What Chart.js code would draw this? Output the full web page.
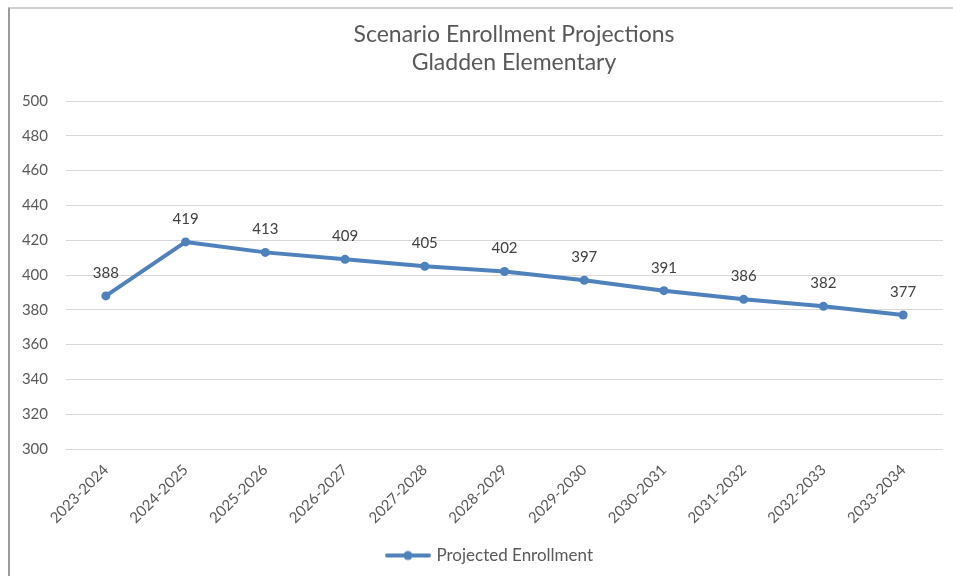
<!DOCTYPE html>
<html>
<head>
<meta charset="utf-8">
<script src="https://cdn.jsdelivr.net/npm/chart.js@4.4.1/dist/chart.umd.min.js"></script>
<style>
  html, body { margin: 0; padding: 0; background: #fff; }
  #wrap { position: relative; width: 953px; height: 576px; overflow: hidden; }
  #frame { position: absolute; left: 8px; top: 7px; width: 1000px; height: 1000px;
           border-top: 2px solid #cfcfcf; border-left: 2px solid #9a9a9a; pointer-events: none; }
  canvas { position: absolute; left: 0; top: 0; }
</style>
</head>
<body>
<div id="wrap">
  <canvas id="c" width="953" height="576"></canvas>
  <div id="frame"></div>
</div>
<script>
const titleLines = ["Scenario Enrollment Projections", "Gladden Elementary"];
const categories = ["2023-2024","2024-2025","2025-2026","2026-2027","2027-2028","2028-2029","2029-2030","2030-2031","2031-2032","2032-2033","2033-2034"];
const projectedEnrollment = [388, 419, 413, 409, 405, 402, 397, 391, 386, 382, 377];
const seriesName = "Projected Enrollment";
const yMin = 300, yMax = 500, yStep = 20;

const BLUE = "#4F81BD";
const FONT = "Lato, 'Open Sans', sans-serif";

// legend marker: line with a dot
const marker = document.createElement("canvas");
marker.width = 46; marker.height = 12;
(function(){
  const g = marker.getContext("2d");
  g.strokeStyle = BLUE; g.lineWidth = 4; g.lineCap = "round";
  g.beginPath(); g.moveTo(2, 6); g.lineTo(44, 6); g.stroke();
  g.fillStyle = BLUE; g.beginPath(); g.arc(23, 6, 4.5, 0, Math.PI*2); g.fill();
})();

const chartTitle = {
  id: "chartTitle",
  afterDraw(chart) {
    const ctx = chart.ctx;
    ctx.save();
    ctx.font = "23px " + FONT;
    ctx.fillStyle = "#595959";
    ctx.textAlign = "center";
    ctx.textBaseline = "middle";
    titleLines.forEach((t, i) => ctx.fillText(t, 514, 35 + i * 28));
    ctx.restore();
  }
};

// shift the legend box a little to the right, as in the original
const legendShift = {
  id: "legendShift",
  afterLayout(chart) {
    if (chart.legend) { chart.legend.left += 14; chart.legend.right += 14; }
  }
};

const dataLabels = {
  id: "dataLabels",
  afterDatasetsDraw(chart) {
    const ctx = chart.ctx;
    chart.data.datasets.forEach((ds, i) => {
      const meta = chart.getDatasetMeta(i);
      ctx.save();
      ctx.font = "15px " + FONT;
      ctx.fillStyle = "#404040";
      ctx.textAlign = "center";
      ctx.textBaseline = "middle";
      meta.data.forEach((pt, j) => {
        ctx.fillText(String(ds.data[j]), pt.x, pt.y - 23);
      });
      ctx.restore();
    });
  }
};

new Chart(document.getElementById("c"), {
  type: "line",
  data: {
    labels: categories,
    datasets: [{
      label: seriesName,
      data: projectedEnrollment,
      borderColor: BLUE,
      backgroundColor: BLUE,
      borderWidth: 4,
      tension: 0,
      pointRadius: 4.5,
      pointBorderWidth: 0,
      pointBackgroundColor: BLUE,
      borderCapStyle: "round",
      borderJoinStyle: "round"
    }]
  },
  options: {
    responsive: false,
    animation: false,
    devicePixelRatio: 1,
    layout: { padding: { left: 10, right: 10, top: 101, bottom: 2 } },
    scales: {
      x: {
        offset: true,
        grid: { display: false },
        border: { display: false },
        ticks: { color: "#595959", font: { family: FONT, size: 15 }, minRotation: 45, maxRotation: 45, padding: 4 },
        afterFit(s) { s.height = 88; }
      },
      y: {
        min: yMin, max: yMax,
        grid: { color: "#d9d9d9", lineWidth: 1, drawTicks: false },
        border: { display: false },
        ticks: { stepSize: yStep, color: "#595959", font: { family: FONT, size: 15 }, padding: 18 },
        afterFit(s) { s.width = 56; }
      }
    },
    plugins: {
      title: { display: false },
      legend: {
        position: "bottom",
        labels: {
          color: "#595959",
          font: { family: FONT, size: 17 },
          usePointStyle: true,
          pointStyleWidth: 40,
          padding: 10,
          generateLabels(chart) {
            return chart.data.datasets.map((ds, i) => ({
              text: ds.label, pointStyle: marker, fontColor: "#595959",
              fillStyle: BLUE, strokeStyle: BLUE, lineWidth: 0, hidden: false, datasetIndex: i
            }));
          }
        }
      },
      tooltip: { enabled: false }
    }
  },
  plugins: [dataLabels, chartTitle, legendShift]
});
</script>
</body>
</html>
